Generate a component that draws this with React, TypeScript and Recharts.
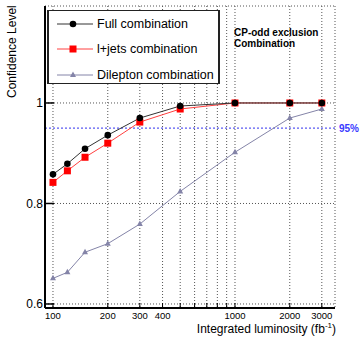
import {
    LineChart,
    Line,
    XAxis,
    YAxis,
    CartesianGrid,
    ReferenceLine
} from 'recharts';

const lumi = [100, 120, 150, 200, 300, 500, 1000, 2000, 3000];
const fullComb = [0.858, 0.879, 0.909, 0.936, 0.97, 0.994, 1.0, 1.0, 1.0];
const ljetsComb = [0.842, 0.865, 0.892, 0.92, 0.962, 0.988, 1.0, 1.0, 1.0];
const dilepComb = [0.651, 0.663, 0.703, 0.72, 0.759, 0.824, 0.902, 0.97, 0.988];

const xTicks = [100, 200, 300, 400, 500, 600, 700, 800, 900, 1000, 2000, 3000];
const xLabelled = [100, 200, 300, 400, 1000, 2000, 3000];
const yTicks = [0.6, 0.8, 1];

const data = lumi.map((x, i) => ({
    x,
    full: fullComb[i],
    ljets: ljetsComb[i],
    dilep: dilepComb[i],
}));

const RED = '#ff0000';
const DILEP = '#8484a8';

const circleDot = (p: any) => (
    <circle key={p.index} cx={p.cx} cy={p.cy} r={3.3} fill="#000" />
);
const squareDot = (p: any) => (
    <rect key={p.index} x={p.cx - 3.5} y={p.cy - 3.5} width={7} height={7} fill={RED} />
);
const triDot = (p: any) => (
    <polygon
        key={p.index}
        points={`${p.cx},${p.cy - 3.5} ${p.cx - 3},${p.cy + 2} ${p.cx + 3},${p.cy + 2}`}
        fill={DILEP}
    />
);

function LegendRow({ color, marker, label }: { color: string; marker: string; label: string }) {
    return (
        <div style={{ display: 'flex', alignItems: 'center', height: 25.5 }}>
            <svg width={40} height={12} style={{ marginLeft: 6 }}>
                <line x1={2} y1={6} x2={38} y2={6} stroke={color} strokeWidth={1} />
                {marker === 'circle' && <circle cx={18} cy={6} r={3.3} fill="#000" />}
                {marker === 'square' && <rect x={14.5} y={2.5} width={7} height={7} fill={RED} />}
                {marker === 'tri' && <polygon points="18,2.5 15,8 21,8" fill={DILEP} />}
            </svg>
            <span style={{ marginLeft: 2, fontSize: 12.5 }}>{label}</span>
        </div>
    );
}

export default function App() {
    return (
        <div
            style={{
                position: 'absolute',
                top: 0,
                left: 0,
                width: 360,
                height: 338,
                background: '#fff',
                fontFamily: '"Liberation Sans", Arial, sans-serif',
                color: '#000',
            }}
        >
            <LineChart
                width={360}
                height={338}
                data={data}
                margin={{ top: 6, right: 25, bottom: 0, left: 0 }}
            >
                <CartesianGrid stroke="#555" strokeDasharray="1 2" />
                <XAxis
                    dataKey="x"
                    type="number"
                    scale="log"
                    domain={[90.4, 3544]}
                    allowDataOverflow
                    ticks={xTicks}
                    interval={0}
                    tickFormatter={(v: number) => (xLabelled.includes(v) ? String(v) : '')}
                    height={30}
                    axisLine={{ stroke: '#000', strokeWidth: 2 }}
                    tickLine={{ stroke: '#000' }}
                    tickSize={-5}
                    tickMargin={9}
                    tick={{ fill: '#000', fontSize: 9.5 }}
                />
                <XAxis
                    xAxisId="top"
                    orientation="top"
                    dataKey="x"
                    type="number"
                    scale="log"
                    domain={[90.4, 3544]}
                    allowDataOverflow
                    height={0}
                    tick={false}
                    tickLine={false}
                    axisLine={{ stroke: '#000', strokeWidth: 1 }}
                />
                <YAxis
                    type="number"
                    domain={[0.592, 1.193]}
                    allowDataOverflow
                    ticks={yTicks}
                    tickFormatter={(v: number) => String(v)}
                    width={45}
                    axisLine={{ stroke: '#000', strokeWidth: 2 }}
                    tickLine={{ stroke: '#000', strokeWidth: 1.5 }}
                    tickSize={-9}
                    tickMargin={11}
                    tick={{ fill: '#000', fontSize: 12 }}
                />
                <YAxis
                    yAxisId="right"
                    orientation="right"
                    type="number"
                    domain={[0.592, 1.193]}
                    width={0}
                    tick={false}
                    tickLine={false}
                    axisLine={{ stroke: '#000', strokeWidth: 1 }}
                />
                <ReferenceLine
                    y={0.95}
                    stroke="#3030ee"
                    strokeDasharray="2 2"
                    label={{ value: '95%', position: 'right', fill: '#3a3aff', fontSize: 10, fontWeight: 'bold', offset: 4 }}
                />
                <Line
                    dataKey="dilep"
                    stroke={DILEP}
                    strokeWidth={1}
                    dot={triDot}
                    isAnimationActive={false}
                />
                <Line
                    dataKey="ljets"
                    stroke="#ff4040"
                    strokeWidth={1}
                    dot={squareDot}
                    isAnimationActive={false}
                />
                <Line
                    dataKey="full"
                    stroke="#333"
                    strokeWidth={1}
                    dot={circleDot}
                    isAnimationActive={false}
                />
            </LineChart>

            <div
                style={{
                    position: 'absolute',
                    left: 47,
                    top: 10,
                    width: 169,
                    height: 72,
                    border: '1px solid #222',
                    borderLeftWidth: 2,
                    borderRightWidth: 2,
                    background: '#fff',
                    boxSizing: 'content-box',
                }}
            >
                <LegendRow color="#333" marker="circle" label="Full combination" />
                <LegendRow color="#ff4040" marker="square" label="l+jets combination" />
                <LegendRow color={DILEP} marker="tri" label="Dilepton combination" />
            </div>

            <div
                style={{
                    position: 'absolute',
                    left: 234,
                    top: 27,
                    fontSize: 10,
                    fontWeight: 'bold',
                    lineHeight: '11px',
                }}
            >
                CP-odd exclusion
                <br />
                Combination
            </div>

            <div
                style={{
                    position: 'absolute',
                    left: 0,
                    top: 0,
                    width: 92,
                    height: 14,
                    fontSize: 12,
                    lineHeight: '14px',
                    whiteSpace: 'nowrap',
                    transformOrigin: '0 0',
                    transform: 'translate(5px, 98px) rotate(-90deg)',
                }}
            >
                Confidence Level
            </div>

            <div
                style={{
                    position: 'absolute',
                    left: 135,
                    top: 322,
                    width: 201,
                    textAlign: 'right',
                    fontSize: 12,
                    lineHeight: '14px',
                    whiteSpace: 'nowrap',
                }}
            >
                Integrated luminosity (fb<sup style={{ fontSize: 8, verticalAlign: 'top', lineHeight: '8px' }}>-1</sup>)
            </div>
        </div>
    );
}
